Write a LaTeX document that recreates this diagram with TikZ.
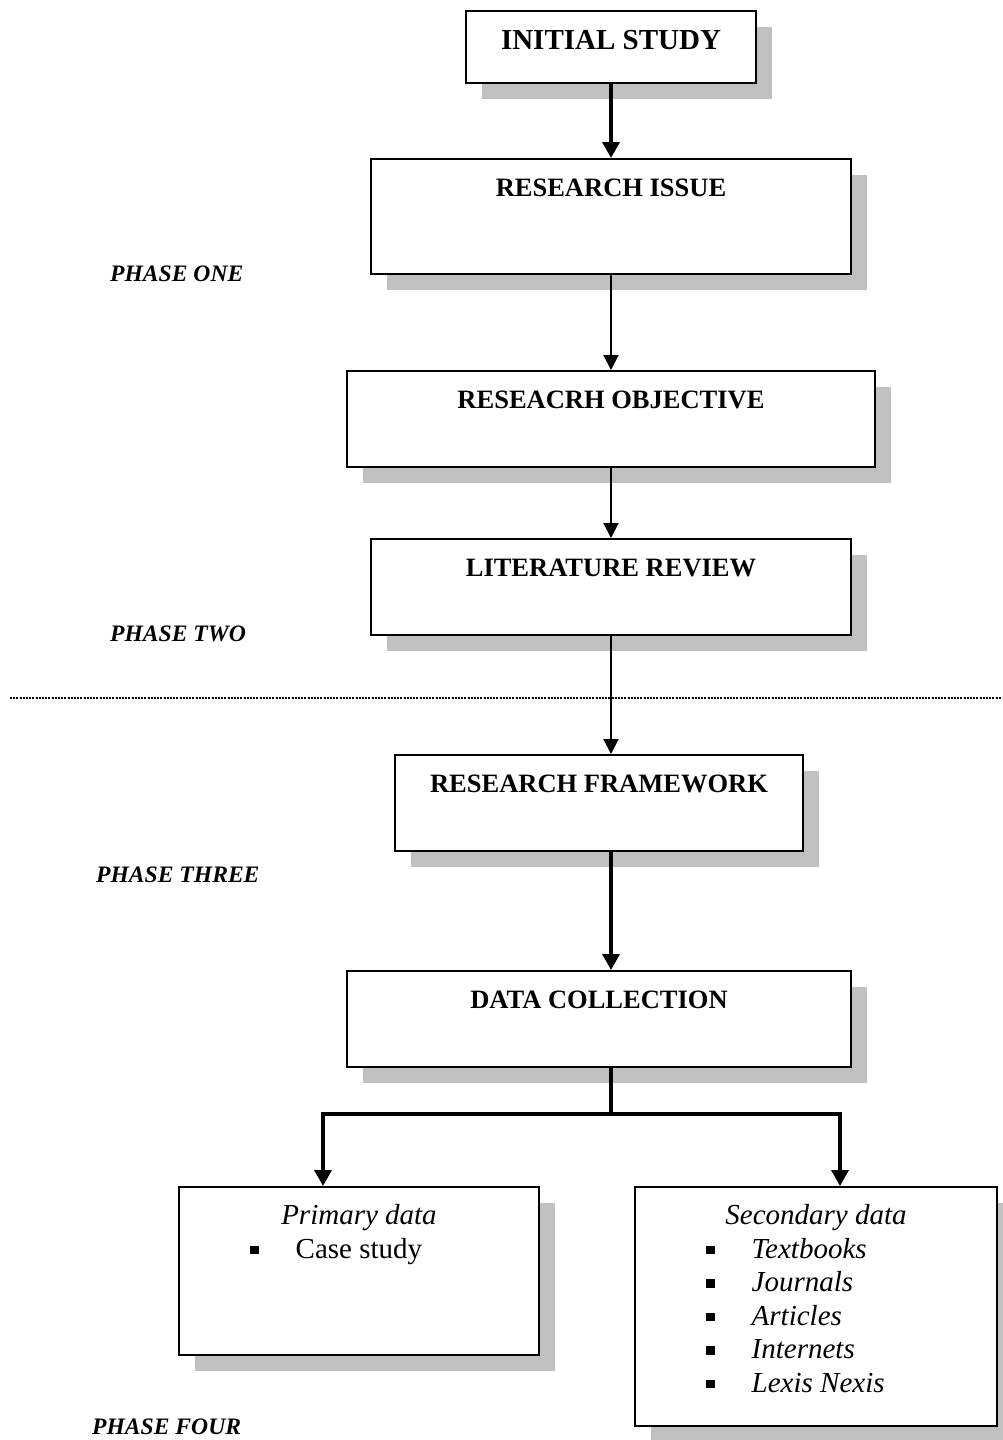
\documentclass[tikz,border=0pt]{standalone}
\usepackage{fontspec}
\setmainfont{Liberation Serif}
\usetikzlibrary{arrows.meta,shadows}
\definecolor{shadowgray}{HTML}{C0C0C0}
\newcommand{\sqbullet}{\rule[4pt]{8.5pt}{8.5pt}}

\begin{document}
\begin{tikzpicture}[x=1pt,y=-1pt,
  stagebox/.style={draw, line width=1.8pt, fill=white, anchor=north,
    inner xsep=0pt, inner ysep=0pt, text height=38pt,
    drop shadow={shadow xshift=16pt, shadow yshift=-16pt, fill=shadowgray, opacity=1},
    font=\fontsize{26.5}{30}\selectfont\bfseries},
  databox/.style={stagebox, font=\fontsize{29}{34}\selectfont\itshape},
  listitem/.style={anchor=base west, inner sep=0pt, font=\fontsize{29}{34}\selectfont},
  phaselabel/.style={anchor=base west, inner sep=0pt, font=\fontsize{23.6}{26}\selectfont\bfseries\itshape},
  thinarrow/.style={line width=2pt, -{Triangle[width=15pt,length=15pt]}},
  thickarrow/.style={line width=3.6pt, -{Triangle[width=17pt,length=16pt]}},
  thickline/.style={line width=3.6pt},
  sepline/.style={line width=2pt, dash pattern=on 2pt off 1.2pt}
]
\useasboundingbox (0,0) rectangle (1002,1440);

% stages
\node[stagebox, minimum width=290pt, text height=39pt, text depth=33pt,
  font=\fontsize{29}{32}\selectfont\bfseries] (initial) at (611,10) {INITIAL STUDY};
\node[stagebox, minimum width=480pt, text depth=77pt] (issue) at (611,158) {RESEARCH ISSUE};
\node[stagebox, minimum width=528pt, text depth=58pt] (objective) at (611,370) {RESEACRH OBJECTIVE};
\node[stagebox, minimum width=480pt, text depth=58pt] (litreview) at (611,538) {LITERATURE REVIEW};
\node[stagebox, minimum width=408pt, text depth=58pt] (framework) at (599,754) {RESEARCH FRAMEWORK};
\node[stagebox, minimum width=504pt, text depth=58pt] (collection) at (599,970) {DATA COLLECTION};

% data sources
\node[databox, minimum width=360pt, text depth=130pt] (primary) at (359,1186) {Primary data};
\node[databox, minimum width=362pt, text depth=201pt] (secondary) at (816,1186) {Secondary data};
\node[listitem] (prim-1) at (250,1258) {\sqbullet\hspace{37pt}Case study};
\foreach \src [count=\i] in {Textbooks,Journals,Articles,Internets,Lexis Nexis}
  \node[listitem] (sec-\i) at (706,{1258+33.6*(\i-1)}) {\sqbullet\hspace{37pt}\textit{\src}};

% phases
\node[phaselabel] (phase1) at (110,281) {PHASE ONE};
\node[phaselabel] (phase2) at (110,641) {PHASE TWO};
\node[phaselabel] (phase3) at (96,882) {PHASE THREE};
\node[phaselabel] (phase4) at (92,1434) {PHASE FOUR};

% separator
\coordinate (sep-l) at (10,698);
\coordinate (sep-r) at (1002,698);
\draw[sepline] (sep-l) -- (sep-r);

% connectors
\draw[thickarrow] (initial) -- (issue);
\draw[thinarrow] (issue) -- (objective);
\draw[thinarrow] (objective) -- (litreview);
\draw[thinarrow] (litreview) -- (litreview.south |- framework.north);
\draw[thickarrow] (framework.south -| litreview.south) -- (collection.north -| litreview.south);
\coordinate (split) at (611,1114);
\coordinate (split-l) at (323,1114);
\coordinate (split-r) at (840,1114);
\draw[thickline] (collection.south -| split) -- (split);
\draw[thickarrow] (split) -- (split-l) -- (split-l |- primary.north);
\draw[thickarrow] (split) -- (split-r) -- (split-r |- secondary.north);
\end{tikzpicture}
\end{document}
